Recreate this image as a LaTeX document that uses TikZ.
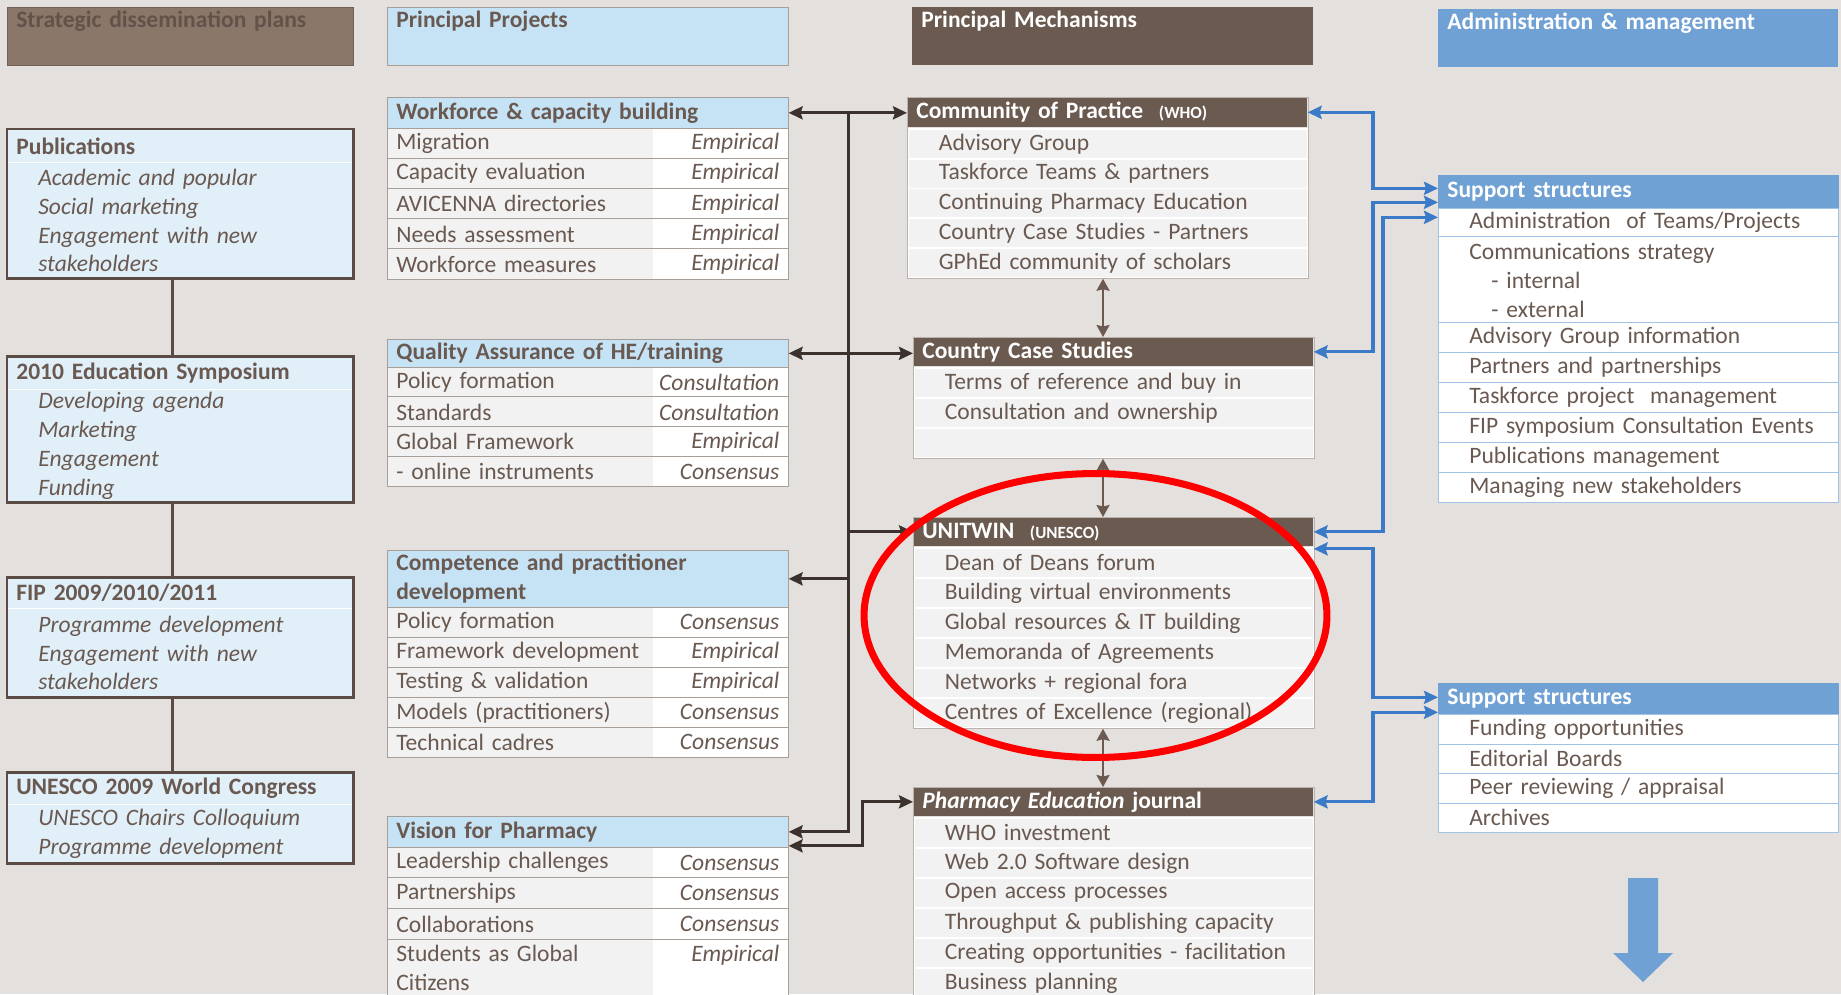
\documentclass[tikz,border=0pt]{standalone}
\usepackage{fontspec}
\setmainfont{Carlito}
\usepackage{tikz}
\usetikzlibrary{arrows.meta,positioning}

\definecolor{bgc}{RGB}{228,224,221}
\definecolor{txt}{RGB}{105,89,80}
\definecolor{stratfill}{RGB}{139,119,106}
\definecolor{stratline}{RGB}{112,96,86}
\definecolor{strattxt}{RGB}{98,82,73}
\definecolor{planfill}{RGB}{225,239,249}
\definecolor{planline}{RGB}{90,76,68}
\definecolor{projblue}{RGB}{198,227,246}
\definecolor{tabline}{RGB}{168,158,152}
\definecolor{cellgrey}{RGB}{242,242,242}
\definecolor{mechbrown}{RGB}{107,90,80}
\definecolor{mechline}{RGB}{188,178,172}
\definecolor{admblue}{RGB}{112,161,212}
\definecolor{supline}{RGB}{160,195,230}
\definecolor{arrblue}{RGB}{58,122,198}
\definecolor{darkln}{RGB}{60,50,45}

\newcommand\rowind{\hspace*{0.44cm}}
\newcommand\basefont{\fontsize{13.4}{16.4}\selectfont}
\newcommand\smallcaption{\fontsize{9.7}{11}\selectfont}

\begin{document}
\begin{tikzpicture}[x=0.02cm, y=-0.02cm, font=\basefont,
  >={Stealth[length=0.28cm,width=0.26cm,inset=0.04cm]}]
% STYLES
\tikzset{
    cell/.style={anchor=north west, inner xsep=0.18cm, inner ysep=0pt, align=left, text=txt, font=\basefont},
    tophead/.style={cell, text height=0.4cm, text depth=0.76cm, font=\basefont\bfseries},
    planhd/.style={cell, fill=planfill, font=\basefont\bfseries, text width=6.56cm},
    planit/.style={cell, fill=planfill, font=\basefont\itshape, text width=6.56cm},
    planframe/.style={draw=planline, line width=1.7pt},
    projhd/.style={cell, draw=tabline, fill=projblue, font=\basefont\bfseries, text width=7.66cm},
    projl/.style={cell, fill=cellgrey, text width=4.96cm},
    projr/.style={cell, fill=white, inner xsep=0.08cm, text width=2.54cm, align=right, font=\basefont\itshape},
    mechhd/.style={cell, fill=mechbrown, text=white, font=\basefont\bfseries, text width=7.64cm},
    mechrow/.style={cell, fill=cellgrey, draw=white, line width=1pt, text width=7.64cm},
    suphd/.style={cell, fill=admblue, draw=admblue, text=white, font=\basefont\bfseries, text width=7.64cm},
    suprow/.style={cell, fill=white, draw=supline, text width=7.64cm},
    darkconn/.style={draw=darkln, line width=1.7pt},
    blueconn/.style={draw=arrblue, line width=1.8pt},
    mechconn/.style={draw=mechbrown, line width=1.2pt,
      >={Stealth[length=0.24cm,width=0.26cm,inset=0.03cm]}}
}

\useasboundingbox (0,0) rectangle (1841,994);
\clip (0,0) rectangle (1841,994);
\fill[bgc] (0,0) rectangle (1841,994);

% column headers
\node[tophead, fill=stratfill, draw=stratline, text=strattxt, text width=6.56cm] (plans) at (7,7) {Strategic dissemination plans};
\node[tophead, fill=projblue, draw=tabline, text width=7.66cm] (projects) at (387,7) {Principal Projects};
\node[tophead, fill=mechbrown, text=white, text width=7.66cm] (mechs) at (912,7) {Principal Mechanisms};
\node[tophead, fill=admblue, text=white, text width=7.64cm] (admin) at (1438,9) {Administration \& management};

% dissemination plans
\node[planhd, minimum height=0.66cm] (pub) at (7,129) {Publications};
\node[planit, below=0pt of pub, minimum height=2.3cm] (pub-it) {\rowind Academic and popular\\\rowind Social marketing\\\rowind Engagement with new\\\rowind stakeholders};
\draw[white, line width=0.8pt] (pub.south west) -- (pub.south east);
\draw[planframe] (pub.north west) rectangle (pub-it.south east);

\node[planhd, minimum height=0.66cm] (sym) at (7,356) {2010 Education Symposium};
\node[planit, below=0pt of sym, minimum height=2.24cm] (sym-it) {\rowind Developing agenda\\\rowind Marketing\\\rowind Engagement\\\rowind Funding};
\draw[white, line width=0.8pt] (sym.south west) -- (sym.south east);
\draw[planframe] (sym.north west) rectangle (sym-it.south east);

\node[planhd, minimum height=0.62cm] (fip) at (7,577) {FIP 2009/2010/2011};
\node[planit, below=0pt of fip, minimum height=1.76cm] (fip-it) {\rowind Programme development\\\rowind Engagement with new\\\rowind stakeholders};
\draw[white, line width=0.8pt] (fip.south west) -- (fip.south east);
\draw[planframe] (fip.north west) rectangle (fip-it.south east);

\node[planhd, minimum height=0.64cm] (wcong) at (7,772) {UNESCO 2009 World Congress};
\node[planit, below=0pt of wcong, minimum height=1.16cm] (wcong-it) {\rowind UNESCO Chairs Colloquium\\\rowind Programme development};
\draw[white, line width=0.8pt] (wcong.south west) -- (wcong.south east);
\draw[planframe] (wcong.north west) rectangle (wcong-it.south east);

\draw[planframe] ([xshift=-0.16cm]pub-it.south) -- ([xshift=-0.16cm]sym.north);
\draw[planframe] ([xshift=-0.16cm]sym-it.south) -- ([xshift=-0.16cm]fip.north);
\draw[planframe] ([xshift=-0.16cm]fip-it.south) -- ([xshift=-0.16cm]wcong.north);

% principal projects
\node[projhd, minimum height=0.62cm] (wf) at (387,97) {Workforce \& capacity building};
\foreach \t/\m [count=\i] in {Migration/Empirical, Capacity evaluation/Empirical,
    AVICENNA directories/Empirical, Needs assessment/Empirical, Workforce measures/Empirical}{
  \node[projl, minimum height=0.604cm] (wf-l\i) at (387,{128+(\i-1)*30.2}) {\t};
  \node[projr, minimum height=0.604cm] (wf-r\i) at (653,{128+(\i-1)*30.2}) {\m\hspace*{0.1cm}};
  \draw[tabline] (wf-l\i.north west) rectangle (wf-r\i.south east);
}

\node[projhd, minimum height=0.56cm] (qa) at (387,339) {Quality Assurance of HE/training};
\foreach \t/\m [count=\i] in {Policy formation/Consultation, Standards/Consultation,
    Global Framework/Empirical, - online instruments/Consensus}{
  \node[projl, minimum height=0.595cm] (qa-l\i) at (387,{367+(\i-1)*29.75}) {\t};
  \node[projr, minimum height=0.595cm] (qa-r\i) at (653,{367+(\i-1)*29.75}) {\m\hspace*{0.1cm}};
  \draw[tabline] (qa-l\i.north west) rectangle (qa-r\i.south east);
}

\node[projhd, minimum height=1.14cm] (comp) at (387,550) {Competence and practitioner\\development};
\foreach \t/\m [count=\i] in {Policy formation/Consensus, Framework development/Empirical,
    Testing \& validation/Empirical, Models (practitioners)/Consensus, Technical cadres/Consensus}{
  \node[projl, minimum height=0.6cm] (comp-l\i) at (387,{607+(\i-1)*30}) {\t};
  \node[projr, minimum height=0.6cm] (comp-r\i) at (653,{607+(\i-1)*30}) {\m\hspace*{0.1cm}};
  \draw[tabline] (comp-l\i.north west) rectangle (comp-r\i.south east);
}

\node[projhd, minimum height=0.62cm] (vis) at (387,816) {Vision for Pharmacy};
\foreach \t/\m [count=\i] in {Leadership challenges/Consensus, Partnerships/Consensus,
    Collaborations/Consensus}{
  \node[projl, minimum height=0.613cm] (vis-l\i) at (387,{847+(\i-1)*30.67}) {\t};
  \node[projr, minimum height=0.613cm] (vis-r\i) at (653,{847+(\i-1)*30.67}) {\m\hspace*{0.1cm}};
  \draw[tabline] (vis-l\i.north west) rectangle (vis-r\i.south east);
}
\node[projl, minimum height=1.14cm] (vis-l4) at (387,939) {Students as Global\\Citizens};
\node[projr, minimum height=1.14cm] (vis-r4) at (653,939) {Empirical\hspace*{0.1cm}\mbox{}\\\mbox{}};
\draw[tabline] (vis-l4.north west) rectangle (vis-r4.south east);

% principal mechanisms
\node[mechhd, minimum height=0.6cm] (cop) at (907,97) {Community of Practice\ \ {\smallcaption(WHO)}};
\foreach \t [count=\i] in {Advisory Group, Taskforce Teams \& partners, Continuing Pharmacy Education,
    Country Case Studies - Partners, GPhEd community of scholars}
  \node[mechrow, minimum height=0.596cm] (cop-\i) at (907,{128+(\i-1)*29.8}) {\rowind\t};
\draw[mechline] (cop.north west) rectangle (cop-5.south east);

\node[mechhd, minimum height=0.58cm] (ccs) at (913,337) {Country Case Studies};
\foreach \t [count=\i] in {Terms of reference and buy in, Consultation and ownership, \mbox{}}
  \node[mechrow, minimum height=0.6cm] (ccs-\i) at (913,{367+(\i-1)*30}) {\rowind\t};
\draw[mechline] (ccs.north west) rectangle (ccs-3.south east);

\node[mechhd, minimum height=0.58cm] (uni) at (913,517) {UNITWIN\ \ {\smallcaption(UNESCO)}};
\foreach \t [count=\i] in {Dean of Deans forum, Building virtual environments, Global resources \& IT building,
    Memoranda of Agreements, Networks + regional fora, Centres of Excellence (regional)}
  \node[mechrow, minimum height=0.6cm] (uni-\i) at (913,{547+(\i-1)*30}) {\rowind\t};
\draw[mechline] (uni.north west) rectangle (uni-6.south east);

\node[mechhd, minimum height=0.58cm] (pej) at (913,787) {\textit{Pharmacy Education} journal};
\foreach \t [count=\i] in {WHO investment, Web 2.0 Software design, Open access processes,
    Throughput \& publishing capacity, Creating opportunities - facilitation, Business planning}
  \node[mechrow, minimum height=0.6cm] (pej-\i) at (913,{817+(\i-1)*30}) {\rowind\t};
\draw[mechline] (pej.north west) rectangle (pej-6.south east);

% administration & management
\node[suphd, minimum height=0.64cm] (sup) at (1438,175) {Support structures};
\node[suprow, below=0pt of sup, minimum height=0.56cm] (sup-1) {\rowind Administration\ \ of Teams/Projects};
\node[suprow, below=0pt of sup-1, minimum height=1.74cm] (sup-2) {\rowind Communications strategy\\\rowind\rowind - internal\\\rowind\rowind - external};
\foreach \t [count=\i from 3] in {Advisory Group information, Partners and partnerships,
    Taskforce project\ \ management, FIP symposium Consultation Events,
    Publications management, Managing new stakeholders}
  \node[suprow, minimum height=0.6cm] (sup-\i) at (1438,{322+(\i-3)*30}) {\rowind\t};

\node[suphd, minimum height=0.62cm] (supb) at (1438,683) {Support structures};
\foreach \t [count=\i] in {Funding opportunities, Editorial Boards, Peer reviewing / appraisal, Archives}
  \node[suprow, minimum height=0.59cm] (supb-\i) at (1438,{714+(\i-1)*29.5}) {\rowind\t};

% Draw the links
\coordinate (trk) at (848,0);
\coordinate (jog) at (862,0);
\coordinate (bxa) at (1373,0);
\coordinate (bxb) at (1383,0);
\coordinate (vx) at (1103,0);
\coordinate (v2) at ([yshift=-0.28cm]vis.east);
\coordinate (u2) at ([yshift=-0.34cm]uni.east);
\coordinate (s1a) at ([yshift=0.06cm]sup.west);
\coordinate (s1b) at ([yshift=-0.22cm]sup.west);
\coordinate (s1c) at ([yshift=-0.52cm]sup.west);
\coordinate (s2a) at ([yshift=0.03cm]supb.west);
\coordinate (s2b) at ([yshift=-0.27cm]supb.west);

\draw[darkconn,<->] (wf.east) -- (wf.east -| cop.west);
\draw[darkconn,<->] (qa.east) -- (qa.east -| ccs.west);
\draw[darkconn,->] (wf.east -| trk) |- (vis.east);
\draw[darkconn,->] (comp.east -| trk) -- (comp.east);
\draw[darkconn,->] (uni.west -| trk) -- (uni.west);
\draw[darkconn,<->] (v2) -| (jog |- pej.west) -- (pej.west);

\draw[mechconn,<->] (cop-5.south -| vx) -- (ccs.north -| vx);
\draw[mechconn,<->] (ccs-3.south -| vx) -- (uni.north -| vx);
\draw[mechconn,<->] (uni-6.south -| vx) -- (pej.north -| vx);

\draw[blueconn,<->] (cop.east) -- (cop.east -| bxa) |- (s1a);
\draw[blueconn,<->] (ccs.east) -- (ccs.east -| bxa) |- (s1b);
\draw[blueconn,<->] (uni.east) -- (uni.east -| bxb) |- (s1c);
\draw[blueconn,<->] (u2) -- (u2 -| bxa) |- (s2a);
\draw[blueconn,<->] (pej.east) -- (pej.east -| bxa) |- (s2b);

% outcome arrow
\fill[admblue] (1628,878) -- (1658,878) -- (1658,953) -- (1673,953) -- (1643,982)
  -- (1613,953) -- (1628,953) -- cycle;

% highlight
\draw[red, line width=4pt] (1095.5,615.5) ellipse [x radius=4.63cm, y radius=2.84cm];
\end{tikzpicture}
\end{document}
